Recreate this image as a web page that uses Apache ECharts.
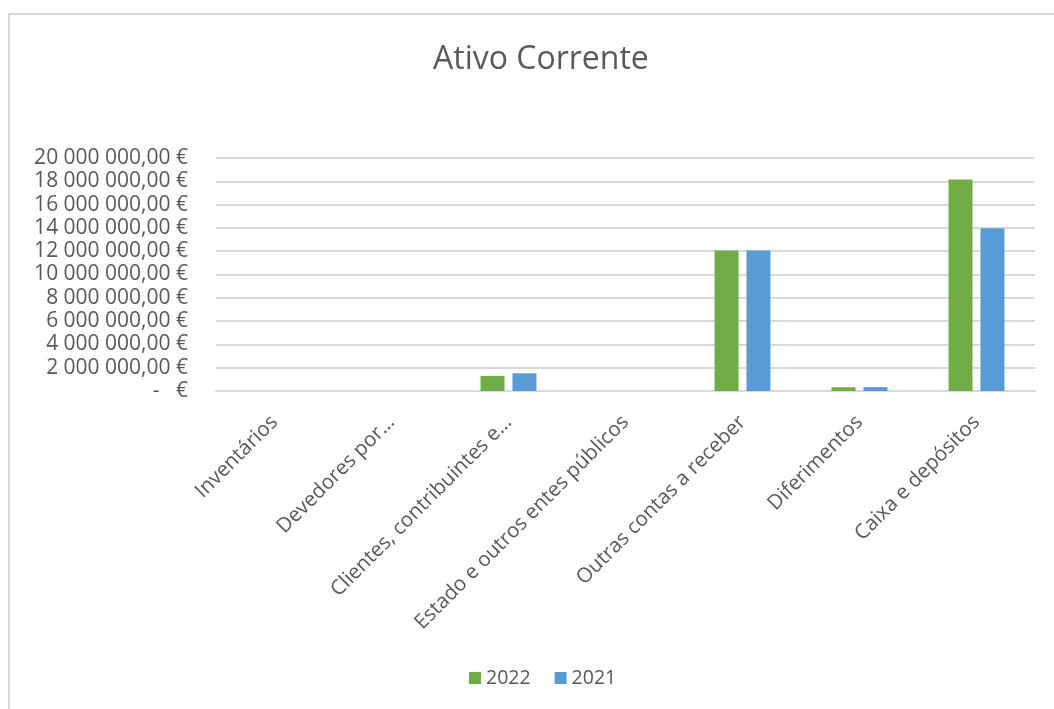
<!DOCTYPE html>
<html>
<head>
<meta charset="utf-8">
<script src="https://cdn.jsdelivr.net/npm/echarts@6/dist/echarts.min.js"></script>
<style>
html,body{margin:0;padding:0;background:#fff;overflow:hidden;}
#frame{position:absolute;left:8px;top:13px;width:1100px;height:800px;border-top:2px solid #d9d9d9;border-left:2px solid #d9d9d9;}
#main{position:absolute;left:0;top:0;width:1054px;height:709px;}
</style>
</head>
<body>
<div id="frame"></div>
<div id="main"></div>
<script>
const categories = ['Inventários','Devedores por…','Clientes, contribuintes e…','Estado e outros entes públicos','Outras contas a receber','Diferimentos','Caixa e depósitos'];
const seriesNames = ['2022','2021'];
const values2022 = [0, 0, 1300000, 0, 12050000, 320000, 18150000];
const values2021 = [0, 0, 1520000, 0, 12050000, 330000, 13980000];
const yMax = 20000000;
const yStep = 2000000;

function fmtEuro(v){
  if (v === 0) return '-   €';
  const s = Math.round(v).toString().replace(/\B(?=(\d{3})+(?!\d))/g, ' ');
  return s + ',00 €';
}

const FONT = 'Open Sans';
const chart = echarts.init(document.getElementById('main'), null, {renderer:'canvas'});
chart.setOption({
  backgroundColor: 'transparent',
  animation: false,
  title: {
    text: 'Ativo Corrente',
    left: 428,
    top: 39,
    textStyle: {fontFamily: FONT, fontSize: 32, fontWeight: 'normal', color: '#595959'}
  },
  legend: {
    data: seriesNames,
    bottom: 16,
    left: 464,
    itemWidth: 12,
    itemHeight: 12,
    itemGap: 24,
    icon: 'rect',
    textStyle: {fontFamily: FONT, fontSize: 19.5, color: '#595959'}
  },
  grid: {left: 216, right: 19, top: 158, bottom: 318, containLabel: false},
  xAxis: {
    type: 'category',
    data: categories,
    axisLine: {lineStyle: {color: '#d9d9d9', width: 2}},
    axisTick: {show: false},
    axisLabel: {rotate: 45, interval: 0, margin: 28, fontFamily: FONT, fontSize: 20.5, color: '#595959'}
  },
  yAxis: {
    type: 'value',
    min: 0,
    max: yMax,
    interval: yStep,
    axisLine: {show: false},
    axisTick: {show: false},
    splitLine: {lineStyle: {color: '#d9d9d9', width: 2}},
    axisLabel: {formatter: fmtEuro, margin: 28, fontFamily: FONT, fontSize: 21, color: '#595959'}
  },
  series: [
    {name: seriesNames[0], type: 'bar', data: values2022, barWidth: 24, barGap: '33%', itemStyle: {color: '#70AD47'}},
    {name: seriesNames[1], type: 'bar', data: values2021, barWidth: 24, barGap: '33%', itemStyle: {color: '#5B9BD5'}}
  ]
});
</script>
</body>
</html>
